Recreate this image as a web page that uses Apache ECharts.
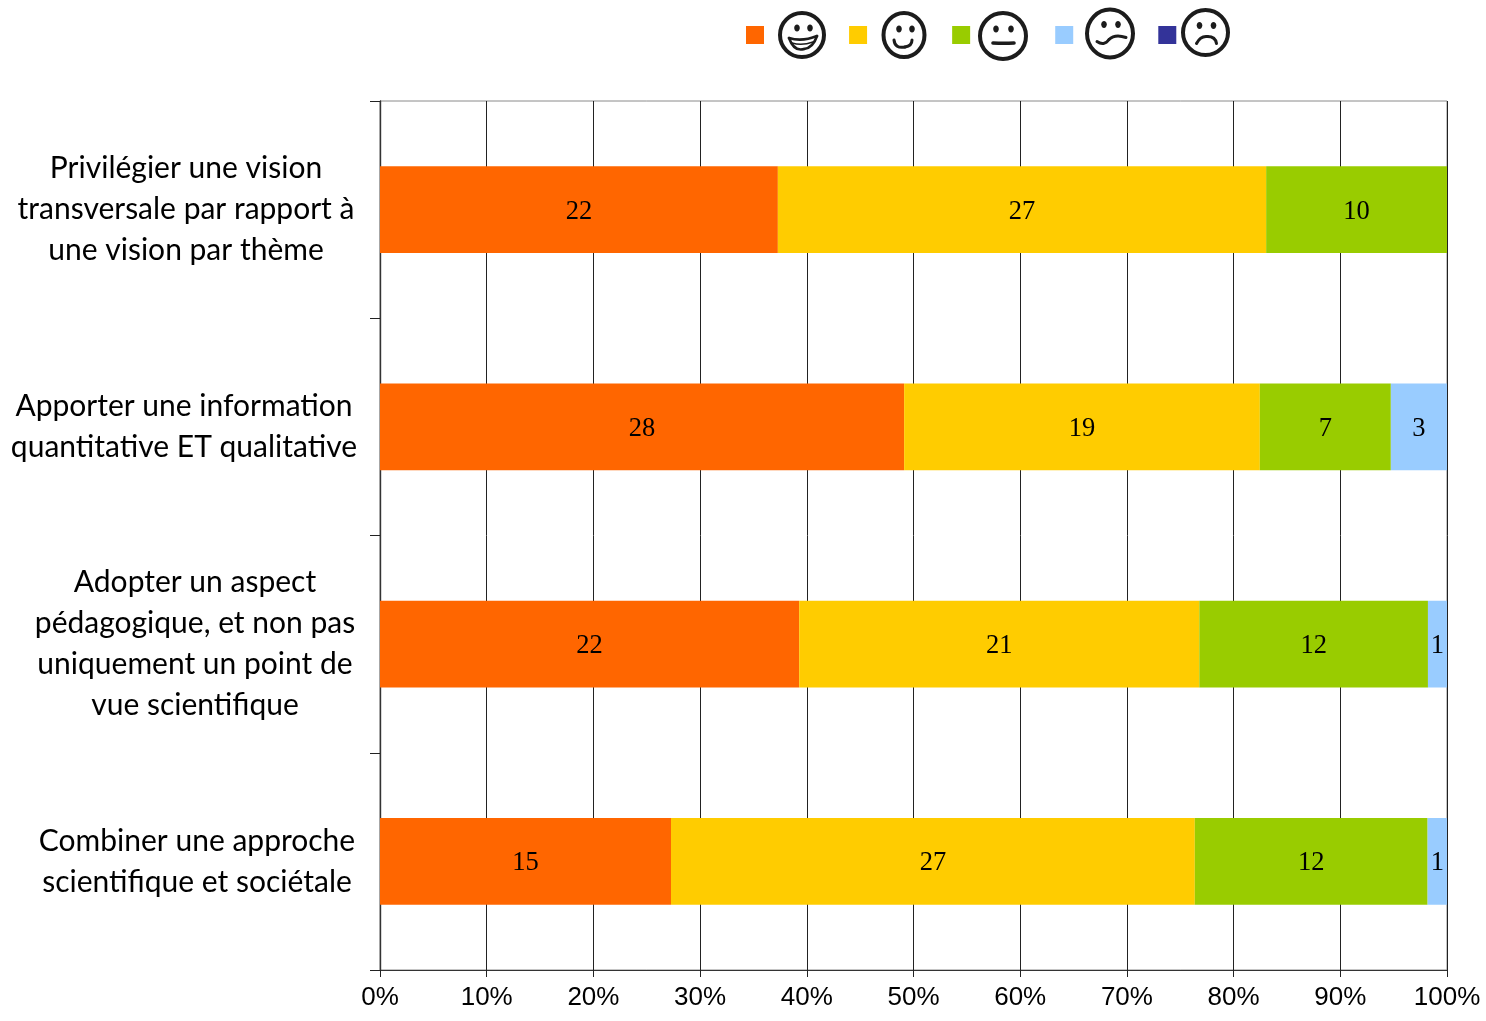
<!DOCTYPE html>
<html><head><meta charset="utf-8">
<style>html,body{margin:0;padding:0;background:#fff}#c{width:1486px;height:1021px}</style>
<script src="https://cdn.jsdelivr.net/npm/echarts@6/dist/echarts.min.js"></script>
</head><body><div id="c"></div>
<script>
const categories = [
  "Privilégier une vision\ntransversale par rapport à\nune vision par thème",
  "Apporter une information\nquantitative ET qualitative",
  "Adopter un aspect\npédagogique, et non pas\nuniquement un point de\nvue scientifique",
  "Combiner une approche\nscientifique et sociétale"
];
const labelShift = [8, 12, -10, -14];
const seriesNames = ["Très positif", "Positif", "Neutre", "Réservé", "Négatif"];
const tresPositif = [22, 28, 22, 15];
const positif = [27, 19, 21, 27];
const neutre = [10, 7, 12, 12];
const reserve = [0, 3, 1, 1];
const negatif = [0, 0, 0, 0];
const colors = ["#FF6600", "#FFCC00", "#99CC00", "#99CCFF", "#333399"];
const tickValues = [0, 10, 20, 30, 40, 50, 60, 70, 80, 90, 100];

const groups = [tresPositif, positif, neutre, reserve, negatif];
const totals = categories.map((_, i) => groups.reduce((s, g) => s + g[i], 0));

const series = groups.map((g, k) => ({
  name: seriesNames[k],
  type: 'bar',
  stack: 'total',
  barWidth: '40%',
  itemStyle: { color: colors[k] },
  label: {
    show: true, position: 'inside', offset: [0, 2],
    fontFamily: '"Liberation Serif"', fontSize: 26.5, color: '#000',
    formatter: p => g[p.dataIndex] ? String(g[p.dataIndex]) : ''
  },
  data: g.map((v, i) => v / totals[i] * 100)
}));

const ink = '#1c1c1c';
function faceP(cx, cy, rx, ry, eyes, paths) {
  const children = [{
    type: 'ellipse', shape: { cx: 0, cy: 0, rx, ry },
    style: { fill: '#fff', stroke: ink, lineWidth: 4 }
  }];
  eyes.forEach(e => children.push({
    type: 'ellipse', shape: { cx: e[0], cy: e[1], rx: 2.8, ry: 3.4 }, style: { fill: ink }
  }));
  paths.forEach(p => children.push({
    type: 'bezierCurve',
    shape: p.s,
    style: { fill: 'none', stroke: ink, lineWidth: p.lw, lineCap: 'round' }
  }));
  return { type: 'group', x: cx, y: cy, children };
}
const curve = (x1, y1, cx, cy, x2, y2, lw) => ({ s: { x1, y1, cpx1: cx, cpy1: cy, x2, y2 }, lw });

const graphic = [
  faceP(802, 35, 22, 22, [[-5, -7], [8, -7]], [
    curve(-13, 3, 0, 7, 15, 1, 2.6), curve(-13, 3, -8, 17, 2, 14, 2.6),
    curve(2, 14, 11, 13, 15, 1, 2.6), curve(-10, 8, 0, 11, 11, 7, 1.6)
  ]),
  faceP(904, 35, 20.5, 22, [[-5, -6], [8, -6]], [curve(-10, 5, -9, 14, 1, 12, 3), curve(1, 12, 8, 11, 8, 5, 3)]),
  faceP(1003, 36, 23, 23, [[-7, -7], [8, -7]], [curve(-10, 7, 1, 7.5, 11, 7, 3.6)]),
  faceP(1110, 33.5, 23, 24, [[-6, -9], [8, -9]], [curve(-13, 8, -6, 13, -1, 6, 3), curve(-1, 6, 5, 0, 16, 4, 3)]),
  faceP(1205.5, 32.5, 22.5, 22.5, [[-6, -7], [8, -7]], [curve(-9, 11, -5, 3, 2, 4, 3), curve(2, 4, 10, 4, 11, 11, 3)])
];

const rich = { };
labelShift.forEach((s, i) => {
  rich['l' + i] = {
    fontFamily: 'Lato', fontSize: 30, lineHeight: 41, color: '#000',
    padding: s > 0 ? [0, s, 0, 0] : [0, 0, 0, -s]
  };
});

const chart = echarts.init(document.getElementById('c'), null, { renderer: 'canvas' });
chart.setOption({
  animation: false,
  backgroundColor: '#fff',
  textStyle: { fontFamily: 'Lato' },
  graphic,
  legend: {
    left: 741, top: 21, itemWidth: 18, itemHeight: 18, itemGap: 77,
    selectedMode: false, icon: 'rect',
    data: seriesNames,
    formatter: () => ' ',
    textStyle: { fontSize: 12 }
  },
  grid: { left: 380, right: 39, top: 101, height: 869, show: true, borderColor: '#8a8a8a', borderWidth: 1, containLabel: false },
  xAxis: {
    type: 'value', min: 0, max: 100, interval: tickValues[1] - tickValues[0],
    axisLine: { show: true, lineStyle: { color: '#333', width: 1.2 } },
    axisTick: { show: true, length: 7, lineStyle: { color: '#222' } },
    splitLine: { show: true, lineStyle: { color: '#222', width: 1 } },
    axisLabel: {
      fontFamily: '"Liberation Sans"', fontSize: 26, color: '#000', margin: 15,
      formatter: v => v + '%', showMaxLabel: true, showMinLabel: true
    }
  },
  yAxis: {
    type: 'category', inverse: true, data: categories,
    axisLine: { show: true, lineStyle: { color: '#333', width: 1.4 } },
    axisTick: { show: true, length: 10, lineStyle: { color: '#222' } },
    splitLine: { show: false },
    axisLabel: {
      align: 'center', margin: 190, interval: 0,
      formatter: (v, i) => v.split('\n').map(t => `{l${i}|${t}}`).join('\n'),
      rich
    }
  },
  series
});
</script></body></html>
